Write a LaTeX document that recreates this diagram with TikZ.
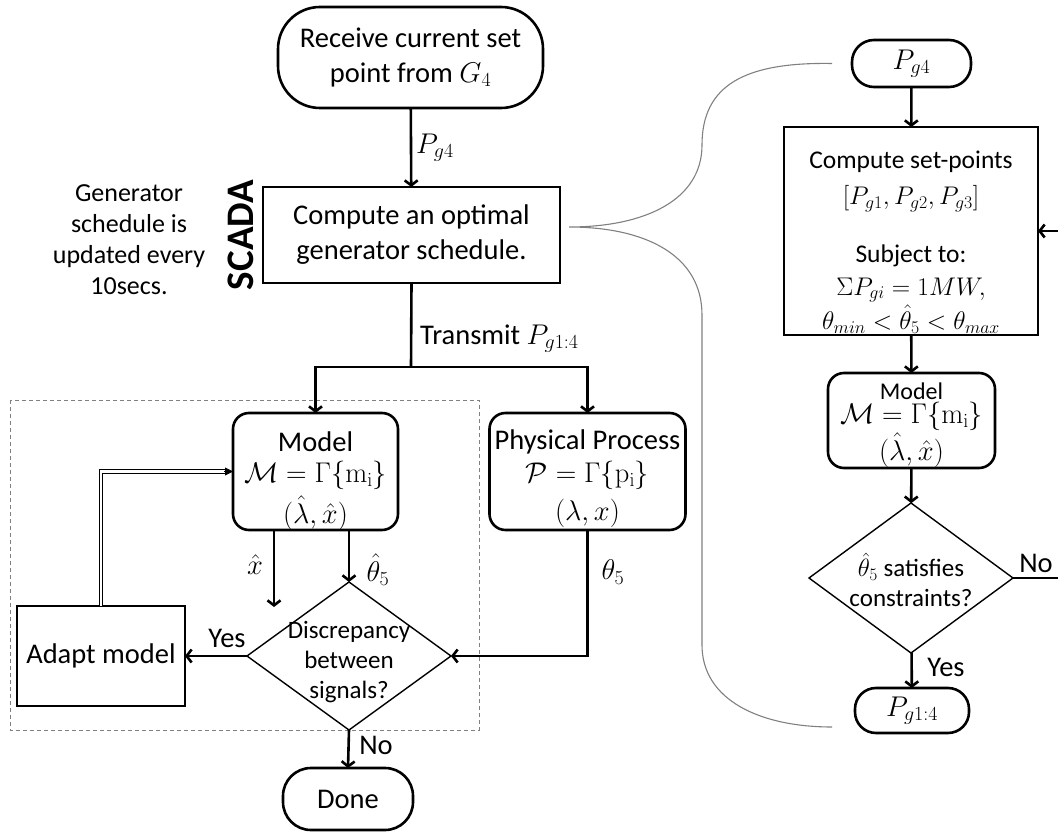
\RequirePackage{fix-cm}
\documentclass[tikz,border=0pt]{standalone}
\usepackage[no-math]{fontspec}
\setmainfont{Carlito}
\usetikzlibrary{arrows.meta,shapes.geometric,calc}
\newcommand\fsmain{\fontsize{28.5}{35}\selectfont}
\newcommand\fsmid{\fontsize{26}{31}\selectfont}
\newcommand\fsset{\fontsize{25.5}{31}\selectfont}
\newcommand\fsdia{\fontsize{25}{30}\selectfont}
\begin{document}
\begin{tikzpicture}[x=1pt,y=-1pt,
  every node/.style={inner sep=0pt, outer sep=0pt},
  box/.style={draw, line width=2.6pt, align=center, font=\fsmain},
  rbox/.style={box, rounded corners=16pt},
  diam/.style={draw, shape=diamond, line width=1.4pt},
  txt/.style={align=center, font=\fsmain},
  conn/.style={line width=2.6pt, -{Straight Barb[length=5pt,width=13pt]}},
  plain/.style={line width=2.6pt},
  brace/.style={draw=gray, line width=1.1pt},
]
\useasboundingbox (0,0) rectangle (1058,834);

% group around the model / process comparison
\draw[gray, line width=0.9pt, dash pattern=on 4pt off 3pt] (10,400) rectangle (479,730);

% ---------------- left column: SCADA loop ----------------
\node[box, rounded corners=42pt, minimum width=265pt, minimum height=101pt] (recv) at (410.5,57.5)
  {Receive current set\\point from $G_4$};
\node[box, minimum width=297pt, minimum height=96pt] (compute) at (411.5,235)
  {Compute an optimal\\generator schedule.};
\node[font=\fontsize{39}{39}\selectfont\bfseries, rotate=90] (scada) at (241,235) {SCADA};
\node[txt, font=\fsmid] (note) at (129,240) {Generator\\schedule is\\updated every\\10secs.};

% model and process boxes, their three lines placed one by one
\node[rbox, minimum width=165pt, minimum height=117pt] (model) at (315.5,471.5) {};
\node[txt] (m1) at (315.5,442) {Model};
\node[txt] (m2) at (315.5,475) {$\mathcal{M}=\Gamma\{\mathrm{m_i}\}$};
\node[txt] (m3) at (315.5,513) {$(\hat{\lambda},\hat{x})$};
\node[rbox, minimum width=196pt, minimum height=117pt] (phys) at (587.5,471.5) {};
\node[txt] (p1) at (587.5,442) {Physical Process};
\node[txt] (p2) at (587.5,475) {$\mathcal{P}=\Gamma\{\mathrm{p_i}\}$};
\node[txt] (p3) at (587.5,513) {$(\lambda,x)$};

\node[diam, minimum width=204pt, minimum height=148pt] (disc) at (349,656) {};
\node[txt, font=\fsdia] (disctext) at (349,662) {Discrepancy\\between\\signals?};

\node[box, minimum width=168pt, minimum height=100pt] (adapt) at (101,656) {Adapt model};
\node[box, rounded corners=28pt, minimum width=130pt, minimum height=62pt] (done) at (348,799) {Done};

\coordinate (split) at (411,367);
\coordinate (xhatend) at (274,607);

\draw[conn] (recv) -- (compute) node[midway, right=5pt] (lpg4) {\fsmain$P_{g4}$};
\draw[plain] (compute.south) -- (split)
  node[pos=0.66, right=9pt] (ltrans) {\fsmain Transmit $P_{g1:4}$};
\draw[conn] (split) -| (model.north);
\draw[conn] (split) -| (phys.north);

\draw[conn] (xhatend |- model.south) -- (xhatend);
\node[font=\fsmain] (lxhat) at (255,565) {$\hat{x}$};
\draw[conn] (disc.north |- model.south) -- (disc.north);
\node[font=\fsmain] (lth5hat) at (378,570) {$\hat{\theta}_5$};

\draw[conn] (phys.south) |- (disc.east);
\node[font=\fsmain] (lth5) at (613,572) {$\theta_5$};

\draw[conn] (disc.west) -- (adapt.east);
\node[font=\fsmain] (lyes1) at (227,638) {Yes};

\draw[double, double distance=2.4pt, line width=0.9pt, shorten >=7pt] (adapt.north) |- (model.west);
\draw[line width=0.9pt, -{Triangle[length=8pt,width=8pt]}] ([xshift=-9pt]model.west) -- (model.west);

\draw[conn] (disc.south) -- (done.north);
\node[font=\fsmain] (lno1) at (376,745) {No};

% ---------------- right column: set-point computation ----------------
\node[box, rounded corners=22pt, minimum width=119pt, minimum height=47pt] (pg4) at (911.5,63.5) {$P_{g4}$};
\node[box, minimum width=254pt, minimum height=208pt] (setp) at (911,231) {};
\node[font=\fsset] (sp1) at (911,162) {Compute set-points};
\node[font=\fsset] (sp2) at (911,199) {$\bigl[P_{g1},P_{g2},P_{g3}\bigr]$};
\node[font=\fsset] (sp3) at (911,256) {Subject to:};
\node[font=\fsset] (sp4) at (911,290) {$\Sigma P_{gi}=1MW,$};
\node[font=\fsset] (sp5) at (911,319) {$\theta_{min}<\hat{\theta}_5<\theta_{max}$};

\node[rbox, minimum width=167pt, minimum height=95pt] (model2) at (911.5,420.5) {};
\node[font=\fontsize{24}{24}\selectfont] (n1) at (911.5,391) {Model};
\node[txt] (n2) at (911.5,416) {$\mathcal{M}=\Gamma\{\mathrm{m_i}\}$};
\node[txt] (n3) at (911.5,450) {$(\hat{\lambda},\hat{x})$};

\node[diam, minimum width=204pt, minimum height=150pt] (chk) at (911,578) {};
\node[txt, font=\fsdia] (chktext) at (911,580) {$\hat{\theta}_5$ satisfies\\constraints?};

\node[box, rounded corners=21pt, minimum width=114pt, minimum height=45pt] (pg14) at (912,710.5) {$P_{g1:4}$};

\draw[conn] (pg4) -- (setp);
\draw[conn] (setp) -- (model2);
\draw[conn] (model2) -- (chk);
\draw[conn] (chk) -- (pg14);
\node[font=\fsmain] (lyes2) at (946,667) {Yes};
\draw[conn] (chk.east) -- ++(55,0) |- (setp.east);
\node[font=\fsmain] (lno2) at (1036,563) {No};

% bracket linking the scheduler to its detailed steps
\draw[brace] ([xshift=-20pt]pg4.west)
  .. controls (745,62) and (702,85) .. (702,145)
  .. controls (702,200) and (645,227) .. (569,227)
  .. controls (645,227) and (702,255) .. (702,315)
  -- (702,645)
  .. controls (702,700) and (760,727) .. ([xshift=-23pt]pg14.west |- 0,727);
\end{tikzpicture}
\end{document}
